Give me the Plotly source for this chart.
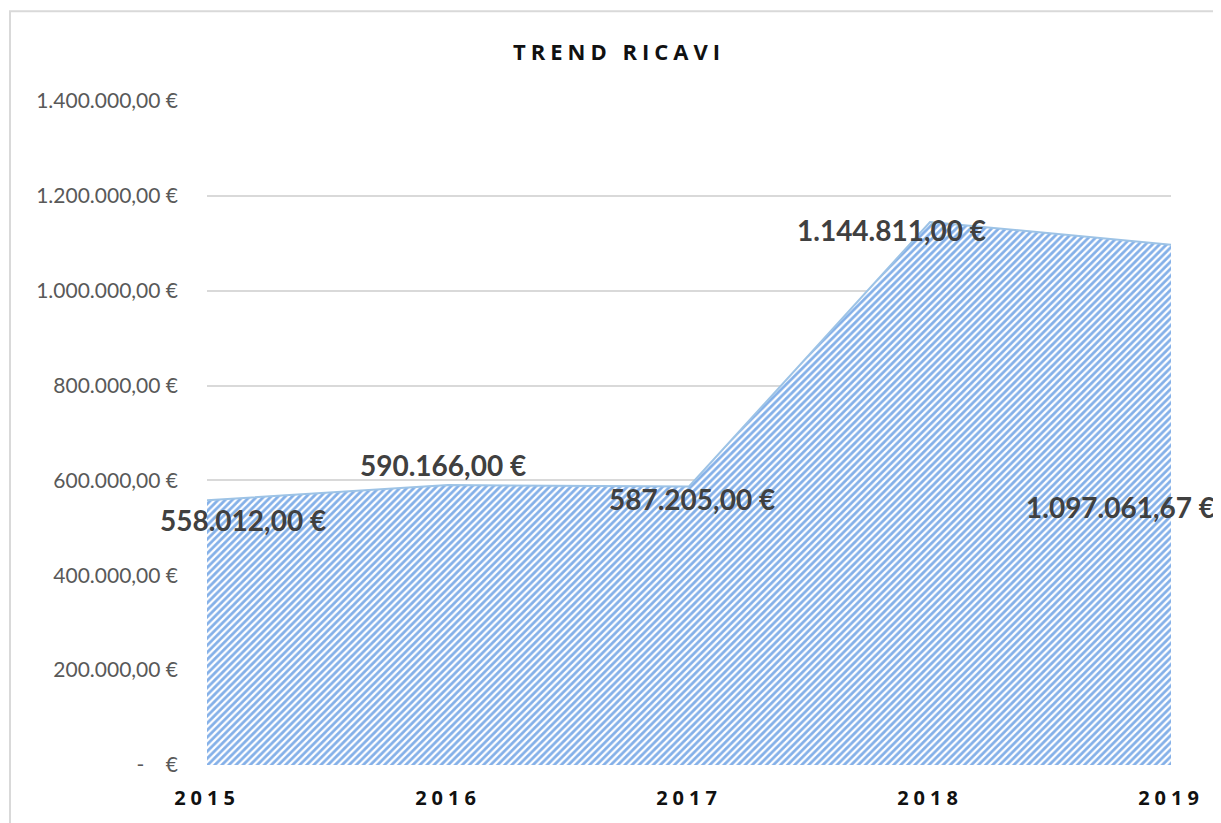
import plotly.graph_objects as go

years = [2015, 2016, 2017, 2018, 2019]
ricavi = [558012.00, 590166.00, 587205.00, 1144811.00, 1097061.67]
y_ticks = [0, 200000, 400000, 600000, 800000, 1000000, 1200000, 1400000]

# label offsets (px) as placed in the original chart
label_shift = [(36, -20), (-5, 20), (3, -12), (-39, -8), (-51, -262)]


def euro(v):
    # formato italiano: 1.234.567,89 €
    s = f"{v:,.2f}".replace(",", "X").replace(".", ",").replace("X", ".")
    return s + " €"


def euro_tick(v):
    if v == 0:
        return "-    €"
    return euro(v)


fig = go.Figure()

fig.add_trace(
    go.Scatter(
        x=years,
        y=ricavi,
        mode="lines",
        fill="tozeroy",
        line=dict(color="#9dc3e6", width=2),
        fillcolor="rgba(0,0,0,0)",
        fillpattern=dict(shape="/", fgcolor="#0a62d2", bgcolor="white", size=5, solidity=0.55),
        hoverinfo="skip",
        showlegend=False,
    )
)

for x, y, (dx, dy) in zip(years, ricavi, label_shift):
    fig.add_annotation(
        x=x, y=y, text=f"<b>{euro(y)}</b>", showarrow=False,
        xshift=dx, yshift=dy,
        font=dict(family="Lato, Open Sans, sans-serif", size=28, color="#404040"),
    )

# cornice del grafico
fig.add_shape(
    type="rect", xref="paper", yref="paper",
    x0=(10 - 207) / 964, x1=1.1, y0=-0.2, y1=1 + (101 - 11) / 666,
    line=dict(color="#d9d9d9", width=2), layer="below",
)

# the page body has an 8px margin, so the figure is sized to the rest of the window
fig.update_layout(
    width=1213,
    height=815,
    margin=dict(l=199, r=50, t=93, b=56),
    paper_bgcolor="white",
    plot_bgcolor="white",
    title=dict(
        text='<span style="letter-spacing:5px"><b>TREND RICAVI</b></span>',
        x=(619 - 8) / 1213, xanchor="center", y=1 - (52 - 8) / 815, yanchor="middle",
        font=dict(family="Open Sans, sans-serif", size=22, color="#111111"),
    ),
    xaxis=dict(
        range=[2015, 2019],
        tickvals=years,
        ticktext=[f'<span style="letter-spacing:5px"><b>{y}</b></span>' for y in years],
        tickfont=dict(family="Open Sans, sans-serif", size=20, color="#111111"),
        showgrid=False,
        zeroline=False,
        ticks="",
        ticklabelstandoff=19,
    ),
    yaxis=dict(
        range=[0, 1400000],
        tickvals=y_ticks,
        ticktext=[euro_tick(v) for v in y_ticks],
        tickfont=dict(family="Lato, Open Sans, sans-serif", size=21, color="#595959"),
        showgrid=True,
        gridcolor="#d9d9d9",
        gridwidth=1.5,
        zeroline=False,
        ticks="",
        ticklabelstandoff=28,
    ),
)

fig.write_html("out.html")
